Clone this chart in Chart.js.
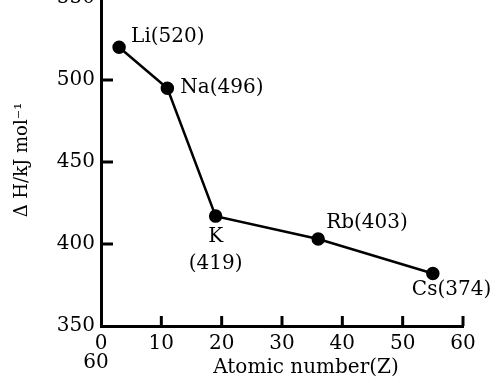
<!DOCTYPE html>
<html>
<head>
<meta charset="utf-8">
<script src="https://cdn.jsdelivr.net/npm/chart.js@4"></script>
<style>
  html, body { margin: 0; padding: 0; background: #fff; overflow: hidden; }
  #chart { display: block; margin-top: -20px; }
</style>
</head>
<body>
<canvas id="chart" width="496" height="403"></canvas>
<script>
const elements = ["Li", "Na", "K", "Rb", "Cs"];
const atomicNumber = [3, 11, 19, 36, 55];
const enthalpy = [520, 495, 417, 403, 382];
const labelValues = [520, 496, 419, 403, 374];
const xTicks = [0, 10, 20, 30, 40, 50, 60];
const yTicks = [350, 400, 450, 500, 550];

const FONT = "DejaVu Serif";
const SHIFT = 20; // canvas is pulled up by this much

// where each text sits relative to its point (px)
const labelPos = [
  { dx: 12, dy: -10, align: "left" },
  { dx: 13, dy: 0, align: "left" },
  { dx: 0, dy: 21, align: "center", split: true },
  { dx: 8, dy: -16, align: "left" },
  { dx: -21, dy: 16, align: "left" }
];

const extras = {
  id: "extras",
  afterDraw(chart) {
    const ctx = chart.ctx;
    const xs = chart.scales.x, ys = chart.scales.y;
    ctx.save();
    ctx.strokeStyle = "#000";
    ctx.lineWidth = 3;
    // inward tick marks
    xs.ticks.forEach((t, i) => {
      if (t.value === 0) return;
      const px = xs.getPixelForTick(i);
      ctx.beginPath();
      ctx.moveTo(px, xs.top);
      ctx.lineTo(px, xs.top - 10);
      ctx.stroke();
    });
    ys.ticks.forEach((t, i) => {
      if (t.value === 350) return;
      const py = ys.getPixelForTick(i);
      ctx.beginPath();
      ctx.moveTo(ys.right, py);
      ctx.lineTo(ys.right + 12, py);
      ctx.stroke();
    });

    ctx.fillStyle = "#000";
    ctx.font = "20px '" + FONT + "'";
    ctx.textBaseline = "middle";
    elements.forEach((el, i) => {
      const px = xs.getPixelForValue(atomicNumber[i]);
      const py = ys.getPixelForValue(enthalpy[i]);
      const p = labelPos[i];
      ctx.textAlign = p.align;
      if (p.split) {
        ctx.fillText(el, px + p.dx, py + p.dy);
        ctx.fillText("(" + labelValues[i] + ")", px + p.dx, py + p.dy + 27);
      } else {
        ctx.fillText(el + "(" + labelValues[i] + ")", px + p.dx, py + p.dy);
      }
    });

    // axis titles
    ctx.textAlign = "center";
    ctx.fillText("Atomic number(Z)", 306, 368 + SHIFT);
    ctx.fillText("60", 96, 363 + SHIFT);
    ctx.font = "18px '" + FONT + "'";
    ctx.translate(22, 160 + SHIFT);
    ctx.rotate(-Math.PI / 2);
    ctx.fillText("\u0394 H/kJ mol\u207B\u00B9", 0, 0);
    ctx.restore();
  }
};

new Chart(document.getElementById("chart"), {
  type: "scatter",
  data: {
    datasets: [{
      data: atomicNumber.map((z, i) => ({ x: z, y: enthalpy[i] })),
      showLine: true,
      borderColor: "#000",
      backgroundColor: "#000",
      borderWidth: 2.5,
      pointRadius: 5.5,
      pointHoverRadius: 5.5,
      tension: 0
    }]
  },
  options: {
    responsive: false,
    animation: false,
    events: [],
    layout: { autoPadding: false, padding: { top: 0, right: 33, left: 0, bottom: 0 } },
    plugins: { legend: { display: false }, tooltip: { enabled: false } },
    scales: {
      x: {
        type: "linear",
        min: 0,
        max: 60,
        afterBuildTicks: s => { s.ticks = xTicks.map(v => ({ value: v })); },
        afterFit: s => { s.height = 57; },
        grid: { display: false, drawTicks: false },
        border: { display: true, color: "#000", width: 3 },
        ticks: { color: "#000", padding: 6, font: { family: FONT, size: 20 } }
      },
      y: {
        min: 350,
        max: 550,
        afterBuildTicks: s => { s.ticks = yTicks.map(v => ({ value: v })); },
        afterFit: s => { s.width = 101; },
        grid: { display: false, drawTicks: false },
        border: { display: true, color: "#000", width: 3 },
        ticks: { color: "#000", padding: 6, font: { family: FONT, size: 20 } }
      }
    }
  },
  plugins: [extras]
});
</script>
</body>
</html>
